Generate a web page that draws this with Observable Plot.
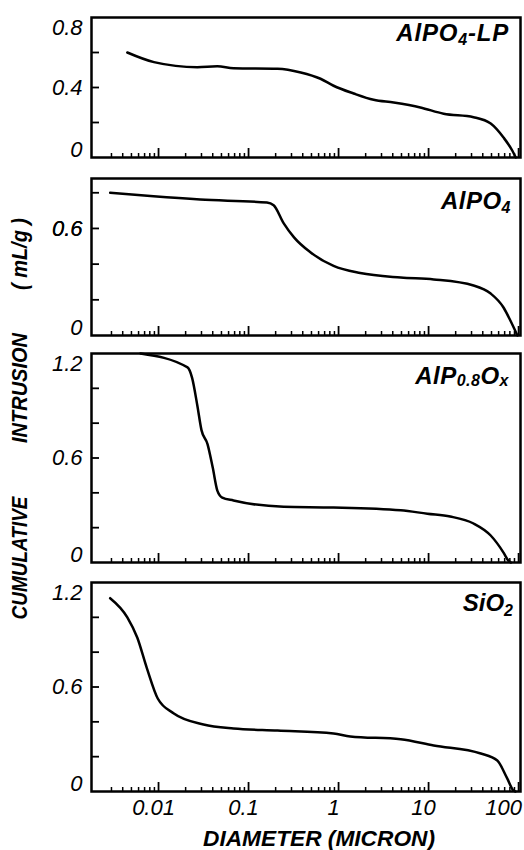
<!DOCTYPE html>
<html><head><meta charset="utf-8">
<script src="https://cdn.jsdelivr.net/npm/d3@7"></script>
<script src="https://cdn.jsdelivr.net/npm/@observablehq/plot@0.6"></script>
<style>
body{margin:0;background:#fff;}
#wrap{position:relative;width:524px;height:850px;overflow:hidden;background:#fff;}
#wrap > svg{position:absolute;left:0;}
</style></head><body><div id="wrap"></div>
<script>
// ---- data (diameter in micron, cumulative intrusion in mL/g) ----
const lpDiam = [0.0045, 0.0089, 0.027, 0.045, 0.068, 0.21, 0.38, 0.63, 0.88, 1.47, 2.45, 4.1, 8.1, 14.7, 31.6, 49, 68, 85, 93];
const lpIntr = [0.60, 0.545, 0.516, 0.521, 0.510, 0.507, 0.486, 0.45, 0.41, 0.366, 0.33, 0.314, 0.286, 0.25, 0.23, 0.194, 0.114, 0.04, 0];

const apDiam = [0.0029, 0.0088, 0.029, 0.16, 0.19, 0.245, 0.32, 0.49, 0.88, 1.74, 4.9, 11.4, 31.6, 49, 68, 81, 97];
const apIntr = [0.80, 0.78, 0.762, 0.745, 0.73, 0.63, 0.55, 0.465, 0.39, 0.35, 0.325, 0.314, 0.28, 0.235, 0.157, 0.084, 0];

const axDiam = [0.0063, 0.021, 0.0236, 0.027, 0.030, 0.035, 0.04, 0.045, 0.051, 0.068, 0.245, 0.88, 4.9, 9.7, 17.4, 31.6, 49, 68, 77, 82];
const axIntr = [1.2, 1.12, 1.06, 0.9, 0.76, 0.68, 0.545, 0.413, 0.373, 0.356, 0.32, 0.316, 0.30, 0.28, 0.264, 0.224, 0.155, 0.057, 0.011, 0];

const siDiam = [0.0029, 0.0045, 0.0058, 0.0074, 0.0098, 0.0148, 0.0316, 0.068, 0.21, 0.88, 1.35, 4.9, 11.4, 38, 58, 74, 88, 92];
const siIntr = [1.11, 1.0, 0.884, 0.71, 0.534, 0.448, 0.385, 0.362, 0.35, 0.333, 0.316, 0.30, 0.264, 0.218, 0.178, 0.08, 0.005, 0];

const xDomain = [0.0018, 105];
const decadeTicks = [0.01, 0.1, 1, 10, 100];
const minorTicks = [0.003,0.004,0.005,0.006,0.007,0.008,0.009,
  0.02,0.03,0.04,0.05,0.06,0.07,0.08,0.09,
  0.2,0.3,0.4,0.5,0.6,0.7,0.8,0.9,
  2,3,4,5,6,7,8,9,
  20,30,40,50,60,70,80,90];
const xTickLabels = ["0.01", "0.1", "1", "10", "100"];

const yTicksLP = [0.2, 0.4, 0.6];
const yTicksAP = [0.2, 0.4, 0.6, 0.8];
const yTicksBig = [0.2, 0.4, 0.6, 0.8, 1.0];

const FONT = '"Liberation Sans", Arial, sans-serif';
const W = 524, ML = 91, MR = 4;
const innerW = W - ML - MR;

function panel({xs, ys, yMax, yTicks, lowLabel, midLabel, topLabel, frameTop, frameBottom, last}) {
  const mt = 14, mb = last ? 50 : 14;
  const innerH = frameBottom - frameTop;
  const data = xs.map((x, i) => ({d: x, v: ys[i]}));
  const axText = {tickSize: 0, tickPadding: 9, fontSize: 22, fontStyle: "italic", label: null, tickFormat: d => String(d)};
  const marks = [
    Plot.tickX(minorTicks, {x: d => d, insetTop: innerH - 4, stroke: "#000", strokeWidth: 1.5}),
    Plot.tickX(decadeTicks, {x: d => d, insetTop: innerH - 9, stroke: "#000", strokeWidth: 1.8}),
    Plot.tickY(yTicks, {y: d => d, insetRight: innerW - 8, stroke: "#000", strokeWidth: 1.8}),
    Plot.axisY([lowLabel], {...axText, dy: -8}),
    Plot.axisY([midLabel], {...axText}),
    Plot.axisY([topLabel], {...axText, dy: topLabel === yMax ? 10 : 0}),
    Plot.lineY(data, {x: "d", y: "v", curve: "monotone-x", stroke: "#000", strokeWidth: 2.5}),
    Plot.frame({stroke: "#000", strokeWidth: 2.5})
  ];
  if (last) {
    marks.push(Plot.axisX(decadeTicks, {...axText, tickPadding: 8,
      tickFormat: d => xTickLabels[decadeTicks.indexOf(d)]}));
  }
  const svg = Plot.plot({
    width: W, height: innerH + mt + mb,
    marginTop: mt, marginBottom: mb, marginLeft: ML, marginRight: MR,
    style: {background: "transparent", overflow: "visible", fontFamily: FONT, color: "#000"},
    x: {type: "log", domain: xDomain, axis: null, label: null},
    y: {domain: [0, yMax], label: null},
    marks
  });
  svg.style.top = (frameTop - mt) + "px";
  return svg;
}

const wrap = document.getElementById("wrap");
wrap.appendChild(panel({xs: lpDiam, ys: lpIntr, yMax: 0.8, yTicks: yTicksLP, lowLabel: 0, midLabel: 0.4, topLabel: 0.8, frameTop: 17, frameBottom: 157}));
wrap.appendChild(panel({xs: apDiam, ys: apIntr, yMax: 0.88, yTicks: yTicksAP, lowLabel: 0, midLabel: 0.6, topLabel: 0.6, frameTop: 178, frameBottom: 335}));
wrap.appendChild(panel({xs: axDiam, ys: axIntr, yMax: 1.2, yTicks: yTicksBig, lowLabel: 0, midLabel: 0.6, topLabel: 1.2, frameTop: 353, frameBottom: 562}));
wrap.appendChild(panel({xs: siDiam, ys: siIntr, yMax: 1.2, yTicks: yTicksBig, lowLabel: 0, midLabel: 0.6, topLabel: 1.2, frameTop: 582, frameBottom: 791, last: true}));

// shift x tick labels slightly left like the reference lettering (last one kept inside frame)
const lastSvg = wrap.lastElementChild;
lastSvg.querySelectorAll("text").forEach(t => {
  if (t.textContent === "100") t.setAttribute("dx", "-15");
  else if (xTickLabels.includes(t.textContent)) t.setAttribute("dx", "-5");
});

// ---- titles overlay ----
const ns = "http://www.w3.org/2000/svg";
const ov = document.createElementNS(ns, "svg");
ov.setAttribute("width", W); ov.setAttribute("height", 850);
ov.style.top = "0px"; ov.style.pointerEvents = "none";
ov.innerHTML = `
<g font-family='${FONT}' font-weight="bold" font-style="italic" fill="#000">
  <text x="509" y="41" font-size="24" text-anchor="end" letter-spacing="0.8">AlPO<tspan font-size="16" dy="4">4</tspan><tspan dy="-4">-LP</tspan></text>
  <text x="511" y="209" font-size="24" text-anchor="end" letter-spacing="0.5">AlPO<tspan font-size="16" dy="4">4</tspan></text>
  <text x="509" y="384" font-size="24" text-anchor="end" letter-spacing="0.5">AlP<tspan font-size="16" dy="2">0.8</tspan><tspan dy="-2">O</tspan><tspan font-size="16" dy="2">x</tspan></text>
  <text x="513" y="611" font-size="24" text-anchor="end">SiO<tspan font-size="16" dy="5">2</tspan></text>
  <text x="319" y="846" font-size="22" text-anchor="middle" textLength="232" lengthAdjust="spacingAndGlyphs">DIAMETER (MICRON)</text>
  <text transform="translate(19,558) rotate(-90)" font-size="22" text-anchor="middle" dy="0.36em" textLength="123" lengthAdjust="spacingAndGlyphs">CUMULATIVE</text>
  <text transform="translate(19,388) rotate(-90)" font-size="22" text-anchor="middle" dy="0.36em" textLength="110" lengthAdjust="spacingAndGlyphs">INTRUSION</text>
  <text transform="translate(19,254) rotate(-90)" font-size="22" text-anchor="middle" dy="0.36em" textLength="72" lengthAdjust="spacingAndGlyphs">( mL/g )</text>
</g>`;
wrap.appendChild(ov);
</script></body></html>
